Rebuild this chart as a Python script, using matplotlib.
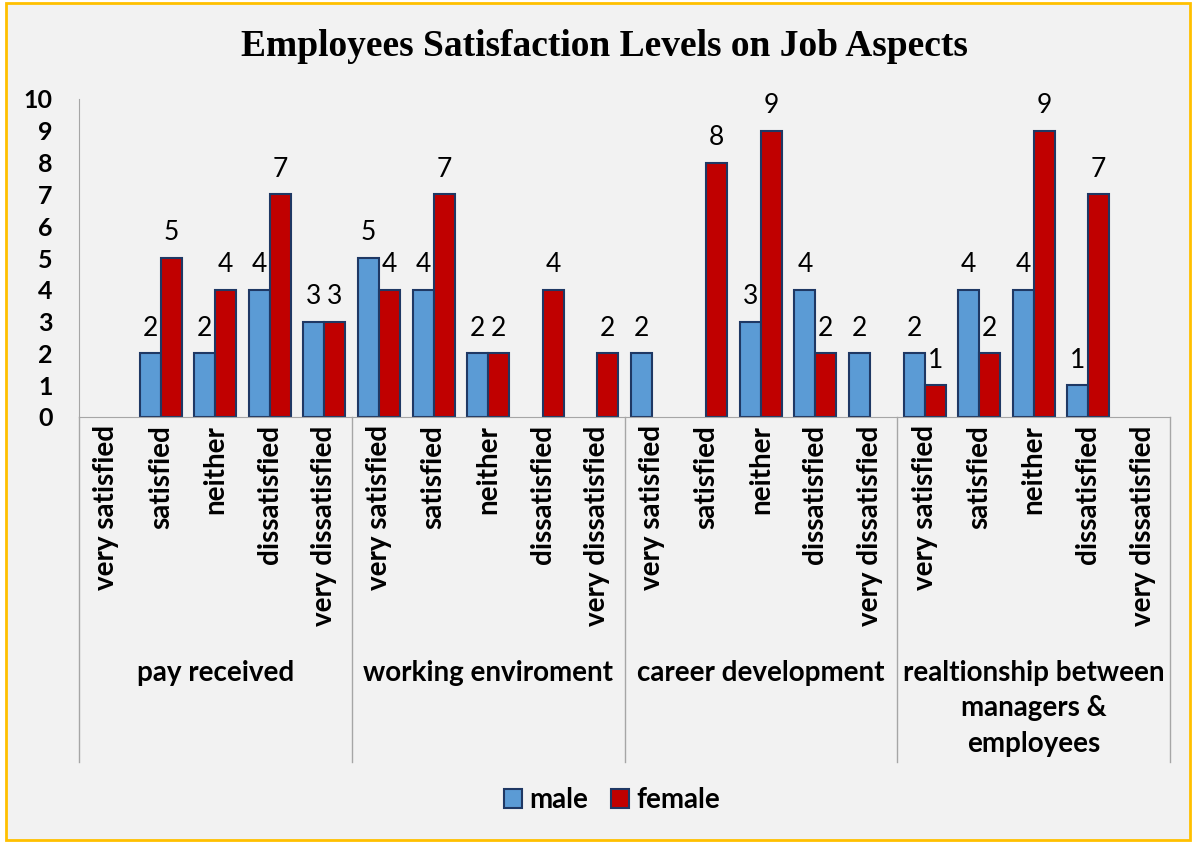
#!/usr/bin/env python3

from matplotlib import pyplot as plt
from matplotlib.patches import Patch, Rectangle
import numpy as np

groups = ["pay received", "working enviroment", "career development",
          "realtionship between\nmanagers &\nemployees"]
levels = ["very satisfied", "satisfied", "neither", "dissatisfied", "very dissatisfied"]

male = [0, 2, 2, 4, 3,
        5, 4, 2, 0, 0,
        2, 0, 3, 4, 2,
        2, 4, 4, 1, 0]
female = [0, 5, 4, 7, 3,
          4, 7, 2, 4, 2,
          0, 8, 9, 2, 0,
          1, 2, 9, 7, 0]

W, H = 1193, 843
plt.rcParams['font.family'] = ['Lato', 'DejaVu Sans']

fig = plt.figure(figsize=(W / 100, H / 100), dpi=100)
fig.patch.set_facecolor('white')
# gold frame around the chart
fig.add_artist(Rectangle((6 / W, 3 / H), (W - 9) / W, (H - 6) / H, transform=fig.transFigure,
                         facecolor='#F2F2F2', edgecolor='#FFC000', linewidth=2, zorder=-10))

ax = fig.add_axes([79 / W, (H - 417) / H, (1170 - 79) / W, (417 - 99) / H])
ax.set_facecolor('none')

x = np.arange(len(male))
w = 0.385
edge = '#1F3864'
lw_m = [1.5 if v else 0 for v in male]
lw_f = [1.5 if v else 0 for v in female]
b1 = ax.bar(x - w / 2, male, w, color='#5B9BD5', edgecolor=edge, linewidth=lw_m, label='male')
b2 = ax.bar(x + w / 2, female, w, color='#C00000', edgecolor=edge, linewidth=lw_f, label='female')

for bars, vals in [(b1, male), (b2, female)]:
    for b, v in zip(bars, vals):
        if v == 0:
            continue
        ax.annotate(str(v), (b.get_x() + b.get_width() / 2, v), xytext=(0, 18),
                    textcoords='offset points', ha='center', va='center', fontsize=19)

ax.set_xlim(-0.5, len(male) - 0.5)
ax.set_ylim(0, 10)
ax.set_yticks(range(11))
ax.set_yticklabels([str(i) for i in range(11)], fontsize=18, fontweight='bold')
ax.tick_params(axis='y', length=0, pad=19)
ax.set_xticks(x)
ax.set_xticklabels(levels * 4, rotation=90, fontsize=20, fontweight='bold', va='top')
ax.tick_params(axis='x', length=0, pad=6)

for s in ['top', 'right']:
    ax.spines[s].set_visible(False)
for s in ['left', 'bottom']:
    ax.spines[s].set_color('#A6A6A6')

# separators of the two-level category axis
ybot = (417 - 762) / (417 - 99)
trans = ax.get_xaxis_transform()
for gx in [-0.5, 4.5, 9.5, 14.5, 19.5]:
    ax.plot([gx, gx], [0, ybot], color='#A6A6A6', linewidth=1, transform=trans, clip_on=False)

for i, g in enumerate(groups):
    ax.text(i * 5 + 2, (417 - 660) / (417 - 99), g, transform=trans, ha='center', va='top',
            fontsize=20, fontweight='bold', linespacing=1.45)

fig.text(604 / W, (H - 46) / H, "Employees Satisfaction Levels on Job Aspects",
         family='Liberation Serif', fontweight='bold', fontsize=27, ha='center', va='center')

fig.legend(handles=[Patch(facecolor='#5B9BD5', edgecolor=edge, linewidth=1.5, label='male'),
                    Patch(facecolor='#C00000', edgecolor=edge, linewidth=1.5, label='female')],
           loc='center', bbox_to_anchor=(612 / W, (H - 800) / H), ncol=2, frameon=False,
           handlelength=0.65, handleheight=0.65, handletextpad=0.25, columnspacing=0.85,
           prop={'size': 20, 'weight': 'bold'})

plt.savefig("out.png", dpi=100)
